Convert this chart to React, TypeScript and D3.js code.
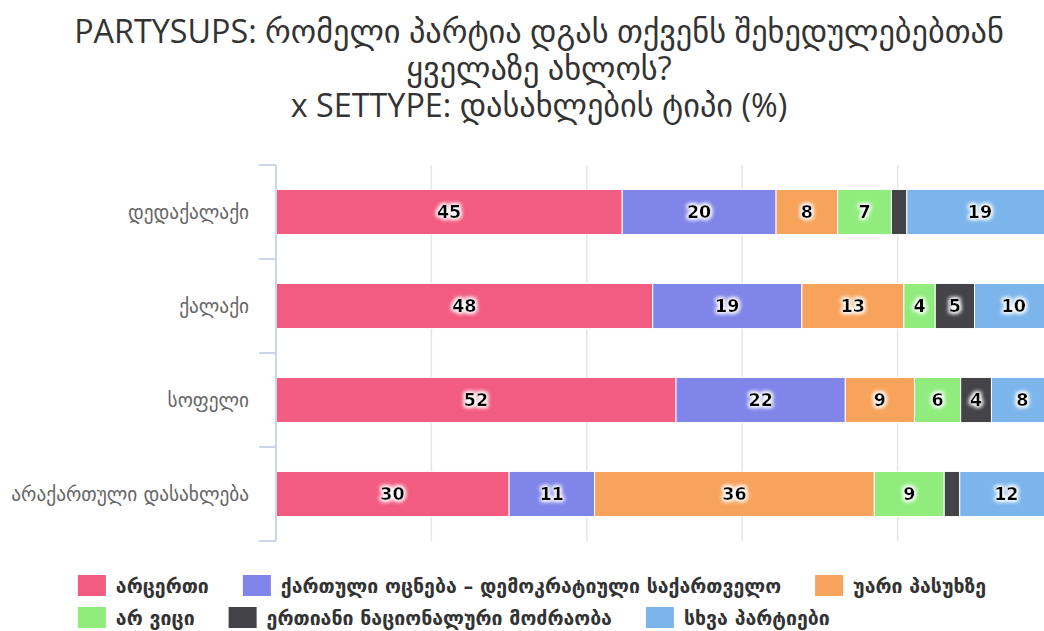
import {useMemo} from "react";
import * as d3 from "d3";

// categories (y axis), top to bottom
const categories = ["დედაქალაქი", "ქალაქი", "სოფელი", "არაქართული დასახლება"];

// series names, in stacking order (left to right)
const seriesNames = [
    "არცერთი",
    "ქართული ოცნება – დემოკრატიული საქართველო",
    "უარი პასუხზე",
    "არ ვიცი",
    "ერთიანი ნაციონალური მოძრაობა",
    "სხვა პარტიები",
];

const seriesColors = ["#f15c80", "#8085e9", "#f7a35c", "#90ed7d", "#434348", "#7cb5ec"];

// values per series, one per category
const noneValues = [45, 48, 52, 30];
const dreamValues = [20, 19, 22, 11];
const refusedValues = [8, 13, 9, 36];
const dontKnowValues = [7, 4, 6, 9];
const unmValues = [2, 5, 4, 2];
const otherValues = [19, 10, 8, 12];

const seriesValues = [noneValues, dreamValues, refusedValues, dontKnowValues, unmValues, otherValues];

const titleLines = [
    "PARTYSUPS: რომელი პარტია დგას თქვენს შეხედულებებთან",
    "ყველაზე ახლოს?",
    "x SETTYPE: დასახლების ტიპი (%)",
];

const percentTicks = [0, 20, 40, 60, 80, 100];

const width = 1044;
const height = 631;
const chartCenter = 539;
const margin = {left: 276, right: 1053, top: 165, bottom: 541};

const legendFont = "bold 19.5px 'DejaVu Sans'";

function measure(text: string, font: string) {
    const ctx = document.createElement("canvas").getContext("2d")!;
    ctx.font = font;
    return ctx.measureText(text).width;
}

export default function App() {
    const rows = categories.map((c, i) => {
        const r: any = {category: c};
        seriesNames.forEach((s, j) => (r[s] = seriesValues[j][i]));
        return r;
    });

    const stacked = d3.stack<any>().keys(seriesNames).offset(d3.stackOffsetExpand)(rows);

    const x = d3.scaleLinear().domain([0, 1]).range([margin.left, margin.right]);
    const y = d3.scaleBand().domain(categories).range([margin.top, margin.bottom]).paddingInner(0).paddingOuter(0);
    const barH = y.bandwidth() * 0.6 * 0.8;

    // legend layout: two rows, left aligned, box centered
    const legend = useMemo(() => {
        const sw = 28, gapText = 10, gapItem = 34;
        const rowsOf = [seriesNames.slice(0, 3), seriesNames.slice(3)];
        const items: {name: string; color: string; x: number; row: number}[] = [];
        let maxW = 0;
        rowsOf.forEach((r, ri) => {
            let cx = 0;
            r.forEach((name) => {
                const idx = seriesNames.indexOf(name);
                items.push({name, color: seriesColors[idx], x: cx, row: ri});
                cx += sw + gapText + measure(name, legendFont) + gapItem;
            });
            maxW = Math.max(maxW, cx - gapItem);
        });
        const offset = 532 - maxW / 2;
        return items.map((it) => ({...it, x: it.x + offset}));
    }, []);

    return (
        <svg width={width} height={height} style={{position: "absolute", left: 0, top: 0, background: "#fff"}}>
            <defs>
                <filter id="glow" x="-50%" y="-50%" width="200%" height="200%">
                    <feMorphology in="SourceAlpha" operator="dilate" radius="1" result="d" />
                    <feGaussianBlur in="d" stdDeviation="2" result="b" />
                    <feFlood floodColor="#fff" />
                    <feComposite in2="b" operator="in" result="w" />
                    <feMerge>
                        <feMergeNode in="w" />
                        <feMergeNode in="w" />
                        <feMergeNode in="SourceGraphic" />
                    </feMerge>
                </filter>
            </defs>

            {/* title */}
            <g fontFamily="'Open Sans', 'DejaVu Sans'" fontSize={32.3} fill="#333" textAnchor="middle">
                {titleLines.map((t, i) => (
                    <text key={i} x={chartCenter} y={43 + i * 37}>{t}</text>
                ))}
            </g>

            {/* grid */}
            <g stroke="#e6e6e6" strokeWidth={1.5}>
                {percentTicks.slice(1).map((t) => (
                    <line key={t} x1={x(t / 100)} x2={x(t / 100)} y1={margin.top} y2={margin.bottom} />
                ))}
            </g>

            {/* bars */}
            {stacked.map((s, si) => (
                <g key={s.key} fill={seriesColors[si]} stroke="#fff" strokeWidth={1}>
                    {s.map((d, i) => (
                        <rect key={i}
                              x={x(d[0])}
                              y={y(categories[i])! + (y.bandwidth() - barH) / 2}
                              width={x(d[1]) - x(d[0])}
                              height={barH} />
                    ))}
                </g>
            ))}

            {/* data labels */}
            <g fontFamily="'DejaVu Sans'" fontWeight="bold" fontSize={17.5} fill="#000" textAnchor="middle" filter="url(#glow)">
                {stacked.map((s, si) =>
                    s.map((d, i) => {
                        const v = seriesValues[si][i];
                        if (v < 3) return null;
                        return (
                            <text key={si + "-" + i} x={(x(d[0]) + x(d[1])) / 2} y={y(categories[i])! + y.bandwidth() / 2} dy="0.36em">{v}</text>
                        );
                    })
                )}
            </g>

            {/* y axis */}
            <g stroke="#ccd6eb" strokeWidth={2} fill="none">
                <line x1={margin.left} x2={margin.left} y1={margin.top} y2={margin.bottom} />
                {categories.map((c) => (
                    <line key={c} x1={margin.left - 17} x2={margin.left} y1={y(c)!} y2={y(c)!} />
                ))}
                <line x1={margin.left - 17} x2={margin.left} y1={margin.bottom} y2={margin.bottom} />
            </g>
            <g fontFamily="'DejaVu Sans'" fontSize={19.3} fill="#666" textAnchor="end">
                {categories.map((c) => (
                    <text key={c} x={249} y={y(c)! + y.bandwidth() / 2} dy="0.36em">{c}</text>
                ))}
            </g>

            {/* legend */}
            <g>
                {legend.map((it) => (
                    <g key={it.name} transform={`translate(${it.x},${575 + it.row * 32})`}>
                        <rect width={28} height={21} fill={it.color} />
                        <text x={38} y={10.5} dy="0.36em" style={{font: legendFont}} fill="#333">{it.name}</text>
                    </g>
                ))}
            </g>
        </svg>
    );
}
